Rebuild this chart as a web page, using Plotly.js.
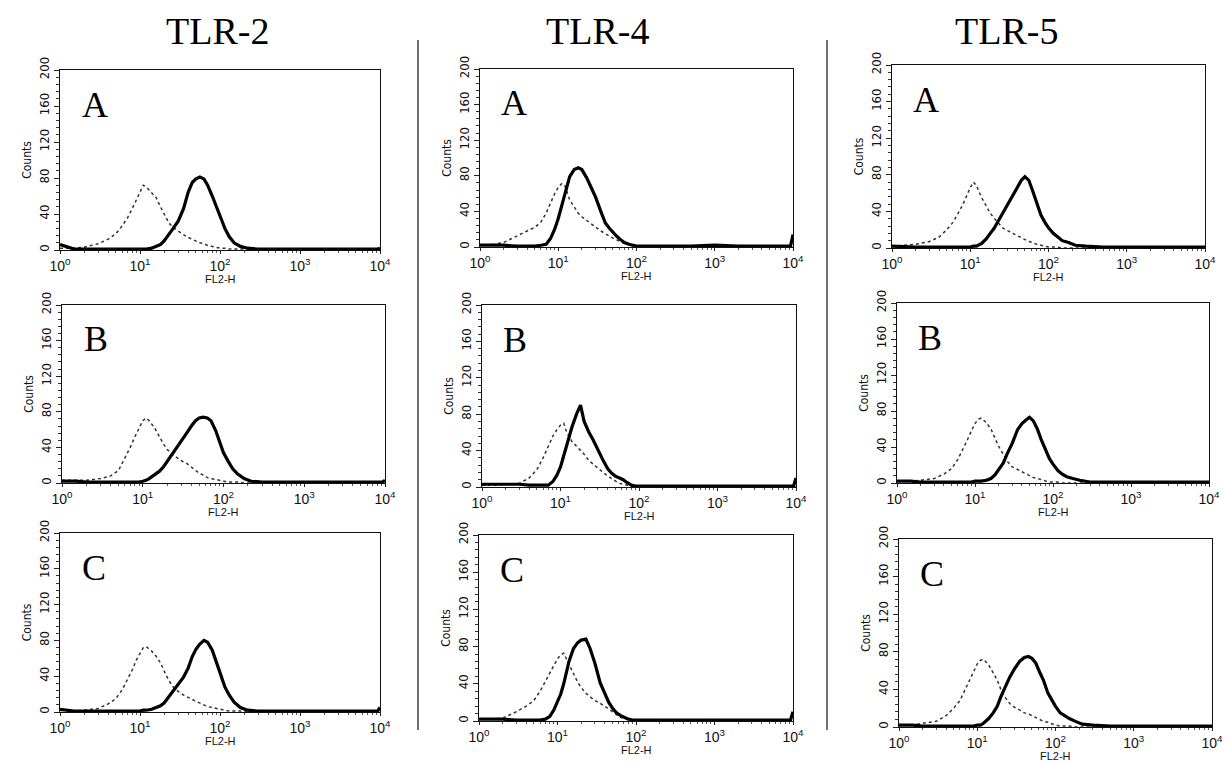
<!DOCTYPE html>
<html>
<head>
<meta charset="utf-8">
<script src="https://cdn.plot.ly/plotly-3.0.1.min.js"></script>
<style>
html,body{margin:0;padding:0;background:#fff;}
#chart{width:1226px;height:764px;}
</style>
</head>
<body>
<div id="chart"></div>
<script>
// ---- data ----
const receptors = ["TLR-2", "TLR-4", "TLR-5"];
const panelLetters = ["A", "B", "C"];
const xTitle = "FL2-H";
const yTitle = "Counts";
const xTickVals = [1, 10, 100, 1000, 10000];
const xTickText = ["10<sup>0</sup>", "10<sup>1</sup>", "10<sup>2</sup>", "10<sup>3</sup>", "10<sup>4</sup>"];
const yTickVals = [0, 40, 80, 120, 160, 200];
const yTickText = ["0", "40", "80", "120", "160", "200"];

// FL2-H channel values (log scale)
const fl2 = [1,1.5,2,3,4,5,6,7,8,9,10,11,12,14,16,18,20,23,26,30,35,40,45,50,56,63,70,80,90,100,115,130,150,180,220,300,500,1000,2000,5000,9300,10000];

// isotype control (dotted) and receptor stain (thick) counts
const tlr2A_iso = [2,2,3,7,12,18,27,36,46,56,65,72,70,64,58,48,40,30,25,21,17,14,12,10,8,7,5,4,3,2,2,1,1,1,1,0,0,1,0,0,0,0];
const tlr2A_tlr = [6,1,1,1,1,1,1,1,1,1,1,1,1,2,4,6,10,17,24,32,46,64,75,79,81,79,72,60,48,37,24,15,8,4,2,1,1,1,1,1,1,2];
const tlr2B_iso = [3,3,3,5,8,14,28,40,52,62,70,73,70,62,52,44,38,32,29,25,22,18,14,11,9,6,5,4,3,2,1,1,1,0,0,0,0,0,0,0,0,0];
const tlr2B_tlr = [2,2,1,1,1,1,1,1,1,1,2,3,5,9,13,18,24,31,39,46,56,64,70,73,74,73,70,59,46,34,24,16,10,5,2,1,1,1,1,1,1,3];
const tlr2C_iso = [2,1,2,4,9,15,25,36,47,58,66,72,73,68,62,55,46,35,28,23,19,16,14,12,10,8,6,5,4,3,2,1,1,1,0,0,0,0,0,0,0,0];
const tlr2C_tlr = [3,1,1,1,1,1,1,1,1,1,1,2,2,3,5,7,10,17,24,31,39,49,62,70,76,80,78,69,57,44,28,19,11,5,2,1,1,1,1,1,1,5];

const tlr4A_iso = [2,3,5,13,18,22,28,38,50,60,67,71,70,53,45,38,34,30,26,22,18,15,12,10,8,6,4,3,2,1,1,1,0,0,0,0,0,0,0,0,0,0];
const tlr4A_tlr = [2,2,2,1,1,1,2,3,10,20,32,46,58,79,87,89,87,78,68,56,40,27,21,16,12,8,5,3,2,1,1,1,1,1,1,1,1,2,1,1,1,14];
const tlr4B_iso = [2,2,3,4,10,19,32,46,56,63,68,70,60,50,45,41,36,29,25,20,16,12,9,6,4,3,2,1,1,1,0,0,0,0,0,0,0,0,0,0,0,0];
const tlr4B_tlr = [3,3,3,3,2,2,2,2,6,13,22,34,48,66,80,90,72,60,52,40,29,20,15,12,10,8,5,2,1,1,1,1,1,1,1,1,1,1,1,1,1,10];
const tlr4C_iso = [2,2,3,10,16,22,32,43,52,60,67,71,73,61,50,42,36,30,26,22,19,16,13,10,7,4,3,2,1,1,0,0,0,0,0,0,0,0,0,0,0,0];
const tlr4C_tlr = [2,2,2,1,1,1,1,2,5,12,20,29,40,64,78,84,87,88,78,62,41,29,20,14,9,6,4,2,1,1,1,1,1,1,1,1,1,1,1,1,1,10];

const tlr5A_iso = [2,3,4,7,12,20,28,38,47,57,66,72,68,55,46,38,33,27,22,19,16,13,11,9,7,6,4,3,2,1,1,1,0,0,0,0,0,0,0,0,0,0];
const tlr5A_tlr = [2,1,1,1,1,1,1,1,1,1,1,2,2,5,10,16,21,30,38,48,58,67,74,78,74,62,50,36,28,22,16,12,8,6,3,2,1,1,1,1,1,1];
const tlr5B_iso = [2,2,3,5,10,16,26,37,48,58,66,71,72,67,60,50,41,32,24,18,15,12,10,8,6,5,4,2,1,1,1,0,0,0,0,0,0,0,0,0,0,0];
const tlr5B_tlr = [2,2,1,1,1,1,1,1,1,1,2,2,2,3,5,9,14,22,33,44,59,66,70,73,69,60,49,38,27,21,14,10,7,5,3,1,1,1,1,1,1,1];
const tlr5C_iso = [2,2,4,6,12,20,28,40,51,60,67,71,72,66,58,50,40,31,25,21,18,15,14,12,10,8,6,5,3,2,1,1,1,0,0,0,0,0,0,0,0,0];
const tlr5C_tlr = [2,2,1,1,1,1,1,1,1,1,2,2,4,9,15,22,32,43,53,62,70,74,75,73,68,58,50,36,28,22,15,12,9,6,3,2,1,1,1,1,1,1];

// panel series, ordered row by row (A, B, C) then column (TLR-2, TLR-4, TLR-5)
const isoSeries = [tlr2A_iso, tlr4A_iso, tlr5A_iso, tlr2B_iso, tlr4B_iso, tlr5B_iso, tlr2C_iso, tlr4C_iso, tlr5C_iso];
const tlrSeries = [tlr2A_tlr, tlr4A_tlr, tlr5A_tlr, tlr2B_tlr, tlr4B_tlr, tlr5B_tlr, tlr2C_tlr, tlr4C_tlr, tlr5C_tlr];

// ---- layout geometry (pixels) ----
const W = 1226, H = 764;
const boxes = [
  [60, 380, 70, 250], [480, 793, 69, 247], [892, 1205, 65, 248],
  [62, 385, 305, 483], [482, 796, 305, 487], [897, 1209, 303, 483],
  [60, 380, 533, 712], [479, 793, 535, 721], [899, 1212, 539, 727]
];

const traces = [];
const layout = {
  width: W, height: H,
  margin: {l: 0, r: 0, t: 0, b: 0},
  paper_bgcolor: "#fff", plot_bgcolor: "#fff",
  showlegend: false,
  annotations: [], shapes: []
};

const tickFont = {family: "Liberation Sans, Arial, sans-serif", size: 14, color: "#111"};
const yTickFont = {family: "DejaVu Sans Condensed, Liberation Sans, Arial, sans-serif", size: 13, color: "#111"};

boxes.forEach((b, i) => {
  const n = i + 1;
  const xa = "x" + (n === 1 ? "" : n);
  const ya = "y" + (n === 1 ? "" : n);
  const xk = "xaxis" + (n === 1 ? "" : n);
  const yk = "yaxis" + (n === 1 ? "" : n);
  layout[xk] = {
    domain: [b[0] / W, b[1] / W],
    anchor: ya, type: "log", range: [0, 4],
    tickmode: "array", tickvals: xTickVals, ticktext: xTickText,
    tickfont: tickFont, ticks: "outside", ticklen: 3, tickcolor: "#222",
    minor: {ticks: "outside", ticklen: 2, tickcolor: "#555", dtick: "D1"},
    showline: true, linecolor: "#111", linewidth: 1.3, mirror: true,
    showgrid: false, zeroline: false
  };
  layout[yk] = {
    domain: [1 - b[3] / H, 1 - b[2] / H],
    anchor: xa, range: [0, 200],
    tickmode: "array", tickvals: yTickVals, ticktext: yTickText,
    tickangle: -90, tickfont: yTickFont,
    ticks: "outside", ticklen: 5, tickcolor: "#222",
    minor: {ticks: "outside", ticklen: 3, tickcolor: "#333", dtick: 8},
    showline: true, linecolor: "#111", linewidth: 1.3, mirror: true,
    showgrid: false, zeroline: false,
    title: {text: yTitle, font: {family: "DejaVu Sans Condensed, Liberation Sans, Arial, sans-serif", size: 12, color: "#111"}, standoff: 2}
  };
  traces.push({
    type: "scatter", mode: "lines", x: fl2, y: isoSeries[i], xaxis: xa, yaxis: ya,
    line: {color: "#333", width: 1.5, dash: "dot"}, hoverinfo: "skip"
  });
  traces.push({
    type: "scatter", mode: "lines", x: fl2, y: tlrSeries[i], xaxis: xa, yaxis: ya,
    line: {color: "#000", width: 3.2}, hoverinfo: "skip"
  });
  layout.annotations.push({
    text: panelLetters[Math.floor(i / 3)],
    xref: xa + " domain", yref: ya + " domain",
    x: 0.062, y: 0.93, xanchor: "left", yanchor: "top", showarrow: false,
    font: {family: "Liberation Serif, Times New Roman, serif", size: 36, color: "#000"}
  });
  // x-axis title placed just under the tick labels
  layout.annotations.push({
    text: xTitle,
    xref: xa + " domain", yref: ya + " domain",
    x: 0.5, y: 0, yshift: -22, xanchor: "center", yanchor: "top", showarrow: false,
    borderpad: 0,
    font: {family: "Liberation Sans, Arial, sans-serif", size: 11, color: "#111"}
  });
});

// column headers
const headerX = [218, 597, 1006];
receptors.forEach((r, j) => {
  layout.annotations.push({
    text: r, xref: "paper", yref: "paper",
    x: headerX[j] / W, y: 1 - 31 / H, xanchor: "center", yanchor: "middle",
    showarrow: false,
    font: {family: "Liberation Serif, Times New Roman, serif", size: 38, color: "#000"}
  });
});

// column dividers
[418, 827].forEach(px => {
  layout.shapes.push({
    type: "line", xref: "paper", yref: "paper",
    x0: px / W, x1: px / W, y0: 1 - 40 / H, y1: 1 - 730 / H,
    line: {color: "#222", width: 1.3}
  });
});

Plotly.newPlot("chart", traces, layout, {staticPlot: true, displayModeBar: false});
</script>
</body>
</html>
